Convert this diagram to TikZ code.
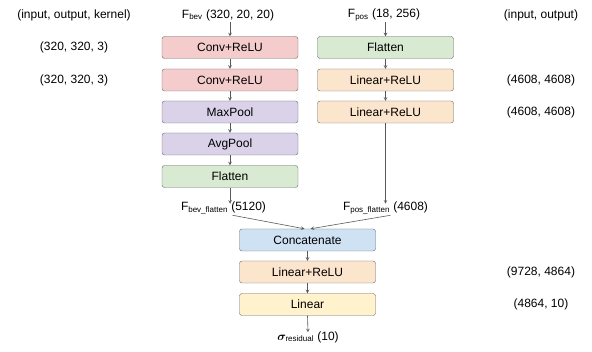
\documentclass[tikz,border=0pt]{standalone}
\usepackage{fontspec}
\setmainfont{Liberation Sans}
\usepackage{amsmath}
\usepackage{bm}
\usetikzlibrary{shapes,arrows}
\usetikzlibrary{positioning}

\definecolor{convred}{HTML}{F4CCCC}
\definecolor{poolpurple}{HTML}{D9D2E9}
\definecolor{flatgreen}{HTML}{D9EAD3}
\definecolor{linorange}{HTML}{FCE5CD}
\definecolor{catblue}{HTML}{CFE2F3}
\definecolor{outyellow}{HTML}{FFF2CC}
\definecolor{edgegray}{HTML}{666666}
\definecolor{arrgray}{HTML}{595959}

\begin{document}
\begin{tikzpicture}[x=1pt,y=-1pt,
  layer/.style={draw=edgegray, rounded corners=2.5pt, minimum width=136pt, minimum height=22pt, inner sep=0pt, font=\fontsize{12}{14}\selectfont},
  lbl/.style={font=\fontsize{12}{14}\selectfont, inner sep=1pt},
  arr/.style={->, >=stealth, draw=arrgray, line width=0.6pt}]
\useasboundingbox (0,0) rectangle (592,352);

% column headers
\node[lbl] (hdkern) at (74,15) {(input, output, kernel)};
\node[lbl] (fbev) at (228,15) {F$_{\text{bev}}$ (320, 20, 20)};
\node[lbl] (fpos) at (384,15) {F$_{\text{pos}}$ (18, 256)};
\node[lbl] (hdio) at (541,15) {(input, output)};

% bev branch
\node[layer, fill=convred] (conva) at (230,47.5) {Conv+ReLU};
\node[layer, fill=convred] (convb) at (230,80) {Conv+ReLU};
\node[layer, fill=poolpurple] (maxp) at (230,112) {MaxPool};
\node[layer, fill=poolpurple] (avgp) at (230,144) {AvgPool};
\node[layer, fill=flatgreen] (flatb) at (230,176.5) {Flatten};

% pos branch
\node[layer, fill=flatgreen] (flatp) at (385.5,47.5) {Flatten};
\node[layer, fill=linorange] (lina) at (385.5,80) {Linear+ReLU};
\node[layer, fill=linorange] (linb) at (385.5,112) {Linear+ReLU};

% merged head
\node[lbl] (bevflat) at (223.5,208) {F$_{\text{bev\_flatten}}$ (5120)};
\node[lbl] (posflat) at (385.5,208) {F$_{\text{pos\_flatten}}$ (4608)};
\node[layer, fill=catblue] (concat) at (307.5,240) {Concatenate};
\node[layer, fill=linorange] (linc) at (307.5,272) {Linear+ReLU};
\node[layer, fill=outyellow] (lin) at (307.5,304.5) {Linear};
\node[lbl] (sig) at (308,337) {$\bm{\sigma}_{\text{residual}}$ (10)};

% sizes
\node[lbl] (sza) at (74,47.5) {(320, 320, 3)};
\node[lbl] (szb) at (74,80) {(320, 320, 3)};
\node[lbl] (szc) at (541,80) {(4608, 4608)};
\node[lbl] (szd) at (541,112) {(4608, 4608)};
\node[lbl] (sze) at (541,272) {(9728, 4864)};
\node[lbl] (szf) at (541,304.5) {(4864, 10)};

% connectors
\draw[arr] (conva |- fbev.south) -- (conva.north);
\draw[arr] (flatp |- fpos.south) -- (flatp.north);
\foreach \a/\b in {conva/convb, convb/maxp, maxp/avgp, avgp/flatb, flatp/lina, lina/linb, concat/linc, linc/lin}
  \draw[arr] (\a) -- (\b);
\draw[arr] (flatb.south) -- ([yshift=-3pt]flatb |- bevflat.north);
\draw[arr] (linb.south) -- ([yshift=-3pt]linb |- posflat.north);
\draw[arr] ([xshift=9pt]bevflat.south) -- ([xshift=-3pt]concat.north);
\draw[arr] ([xshift=5pt]posflat.south) -- ([xshift=3pt]concat.north);
\draw[arr] (lin.south) -- ([yshift=-2pt]sig.north);
\end{tikzpicture}
\end{document}
